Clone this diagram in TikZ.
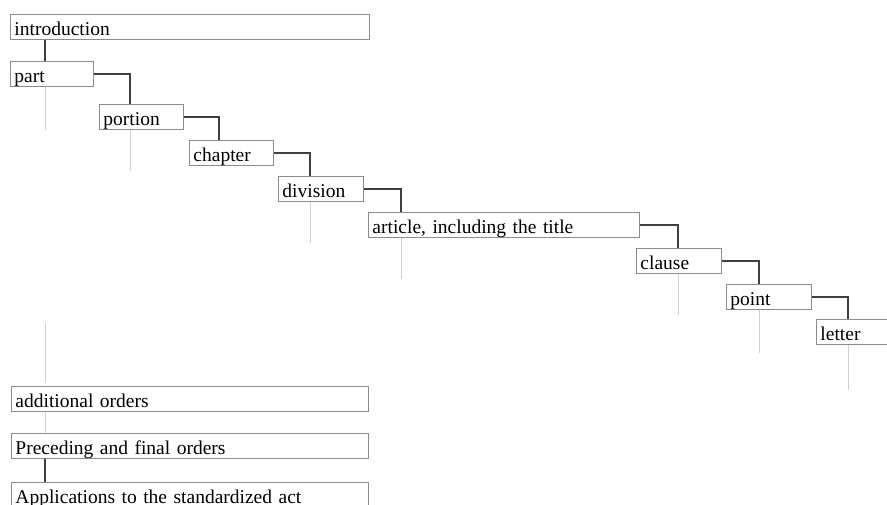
\documentclass[tikz,border=0pt]{standalone}
\usepackage{fontspec}
\setmainfont{Liberation Serif}
\usepackage{tikz}
\usetikzlibrary{calc}
\usetikzlibrary{positioning}
\tikzset{lvlbox/.style={shape=rectangle,draw=black!45,line width=0.9pt,anchor=north west,inner xsep=4pt,inner ysep=0pt,text height=21pt,text depth=4pt,align=left,text width=#1,font=\fontsize{19.5}{22}\selectfont}}
\tikzset{link/.style={draw=black!75,line width=1.2pt}}
\tikzset{stub/.style={draw=black!18,line width=0.9pt}}

\begin{document}
\begin{tikzpicture}[x=1pt,y=-1pt]
		\useasboundingbox (0,0) rectangle (887,504);
		\begin{scope}
			\node[lvlbox=351pt] (intro) at (10,14) {introduction};
			\node[lvlbox=75pt] (part) at (10,61) {part};
			\node[lvlbox=76pt] (portion) at (99,104) {portion};
			\node[lvlbox=76pt] (chapter) at (189,140) {chapter};
			\node[lvlbox=77pt] (division) at (278,176) {division};
			\node[lvlbox=263pt] (article) at (368,212) {article, including the title};
			\node[lvlbox=77pt] (clause) at (636,248) {clause};
			\node[lvlbox=77pt] (point) at (726,284) {point};
			\node[lvlbox=77pt] (letter) at (816,319) {letter};
			\coordinate (part-s) at (45,61);
			\coordinate (portion-s) at (130,104);
			\coordinate (chapter-s) at (219,140);
			\coordinate (division-s) at (310,176);
			\coordinate (article-s) at (401,212);
			\coordinate (clause-s) at (678,248);
			\coordinate (point-s) at (759,284);
			\coordinate (letter-s) at (848,319);
			\draw[link] (intro.south -| part-s) -- (part-s);
			\draw[link] (part.east) -| (portion-s);
			\draw[link] (portion.east) -| (chapter-s);
			\draw[link] (chapter.east) -| (division-s);
			\draw[link] (division.east) -| (article-s);
			\draw[link] (article.east) -| (clause-s);
			\draw[link] (clause.east) -| (point-s);
			\draw[link] (point.east) -| (letter-s);
			\draw[stub] (part.south -| part-s) -- ++(0,43);
			\draw[stub] (portion.south -| portion-s) -- ++(0,41);
			\draw[stub] (division.south -| division-s) -- ++(0,41);
			\draw[stub] (article.south -| article-s) -- ++(0,41);
			\draw[stub] (clause.south -| clause-s) -- ++(0,41);
			\draw[stub] (point.south -| point-s) -- ++(0,43);
			\draw[stub] (letter.south -| letter-s) -- ++(0,45);
		\end{scope}
		\begin{scope}
			\node[lvlbox=349pt] (add) at (11,386) {additional orders};
			\node[lvlbox=349pt] (prec) at (11,433) {Preceding and final orders};
			\node[lvlbox=349pt] (appl) at (11,482) {Applications to the standardized act};
			\coordinate (tail-a) at (45,323);
			\coordinate (tail-b) at (45,383);
			\draw[stub] (tail-a) -- (tail-b);
			\draw[stub] (add.south -| tail-a) -- (prec.north -| tail-a);
			\draw[link] (prec.south -| tail-a) -- (appl.north -| tail-a);
		\end{scope}
	\end{tikzpicture}
\end{document}
